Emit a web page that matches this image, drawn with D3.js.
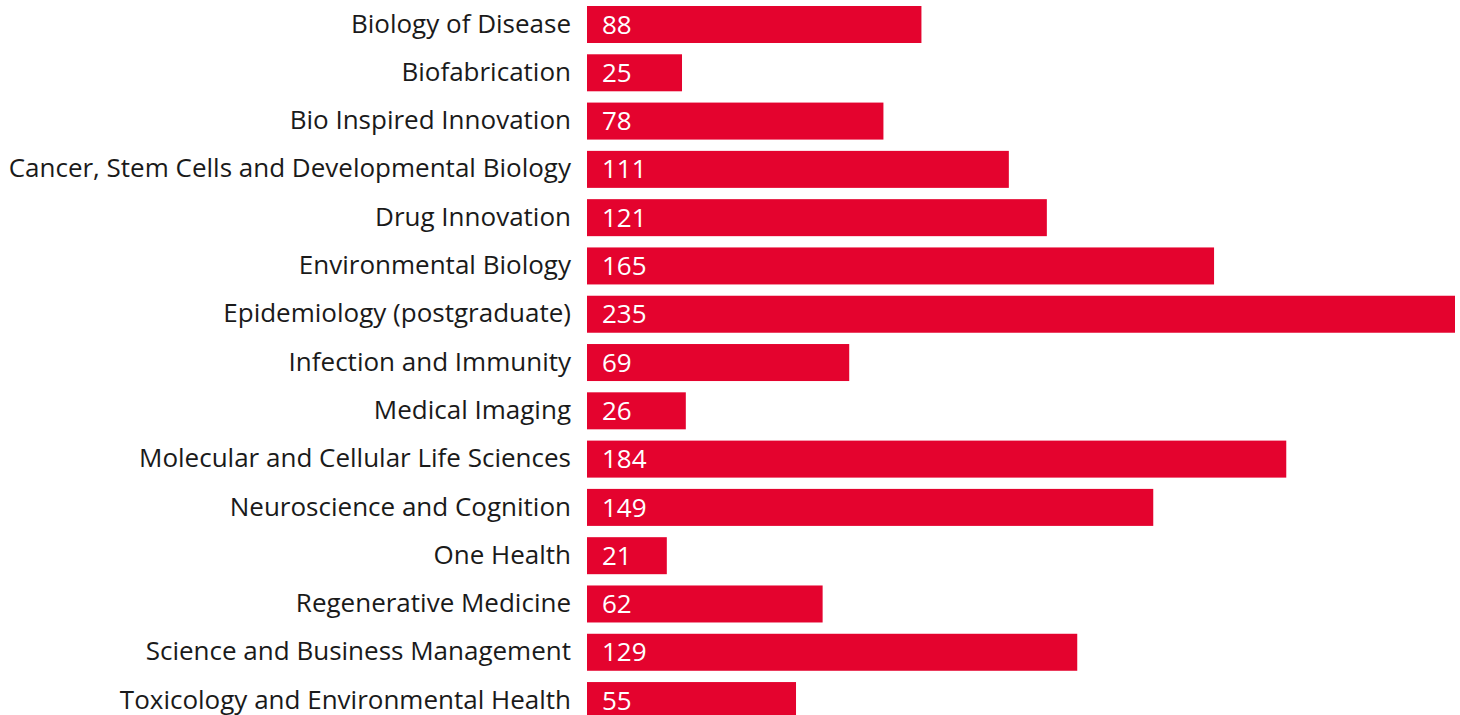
<!DOCTYPE html>
<html>
<head>
<meta charset="utf-8">
<script src="https://cdn.jsdelivr.net/npm/d3@7"></script>
<style>
  html, body { margin: 0; padding: 0; background: #fff; overflow: hidden; }
  svg { display: block; }
</style>
</head>
<body>
<svg id="chart" width="1460" height="715"></svg>
<script>
const categories = [
  "Biology of Disease",
  "Biofabrication",
  "Bio Inspired Innovation",
  "Cancer, Stem Cells and Developmental Biology",
  "Drug Innovation",
  "Environmental Biology",
  "Epidemiology (postgraduate)",
  "Infection and Immunity",
  "Medical Imaging",
  "Molecular and Cellular Life Sciences",
  "Neuroscience and Cognition",
  "One Health",
  "Regenerative Medicine",
  "Science and Business Management",
  "Toxicology and Environmental Health"
];
const values = [88, 25, 78, 111, 121, 165, 235, 69, 26, 184, 149, 21, 62, 129, 55];

const svg = d3.select("#chart");
const barX0 = 587;
const topY = 6;
const pitch = 48.29;
const barH = 37;

const y = d3.scaleBand()
  .domain(categories)
  .range([topY, topY + pitch * (categories.length - 1) + barH])
  .paddingInner((pitch - barH) / pitch)
  .paddingOuter(0)
  .align(0);

const x = d3.scaleLinear()
  .domain([0, 228.4])
  .range([0, 868])
  .clamp(true);

const rows = svg.selectAll("g.row")
  .data(categories.map((c, i) => ({ c, v: values[i] })))
  .join("g")
  .attr("class", "row");

rows.append("rect")
  .attr("x", barX0)
  .attr("y", d => y(d.c))
  .attr("width", d => x(d.v))
  .attr("height", y.bandwidth())
  .attr("fill", "#e4032e");

rows.append("text")
  .attr("x", 571)
  .attr("y", d => y(d.c) + y.bandwidth() / 2 - 1)
  .attr("dy", "0.35em")
  .attr("text-anchor", "end")
  .attr("font-family", "'Open Sans', 'Noto Sans', sans-serif")
  .attr("font-size", 26)
  .attr("fill", "#1a1a1a")
  .text(d => d.c);

rows.append("text")
  .attr("x", barX0 + 15)
  .attr("y", d => y(d.c) + y.bandwidth() / 2)
  .attr("dy", "0.35em")
  .attr("font-family", "'Open Sans', 'Noto Sans', sans-serif")
  .attr("font-size", 26)
  .attr("fill", "#ffffff")
  .text(d => d.v);
</script>
</body>
</html>
